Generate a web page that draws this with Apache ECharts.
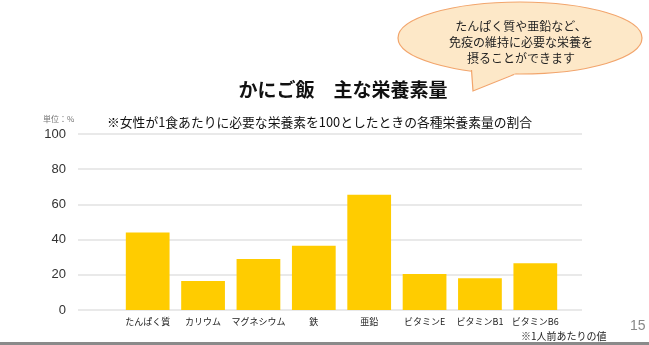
<!DOCTYPE html>
<html><head><meta charset="utf-8">
<script src="https://cdn.jsdelivr.net/npm/echarts@6/dist/echarts.min.js"></script>
<style>html,body{margin:0;padding:0;background:#fff}#c{width:649px;height:345px}</style>
</head><body><div id="c"></div>
<script>
const categories = ['たんぱく質','カリウム','マグネシウム','鉄','亜鉛','ビタミンE','ビタミンB1','ビタミンB6'];
const values = [44, 16.5, 29, 36.5, 65.5, 20.5, 18, 26.5];
const yTicks = [0, 20, 40, 60, 80, 100];
const bubbleLines = ['たんぱく質や亜鉛など、','免疫の維持に必要な栄養を','摂ることができます'];

const FONT = '"Noto Sans CJK JP", "Noto Sans", sans-serif';
const chart = echarts.init(document.getElementById('c'));
const gTop = 134, gBottom = 35;
chart.setOption({
  animation: false,
  textStyle: {fontFamily: FONT},
  title: [
    {text: 'かにご飯　主な栄養素量', left: 338, top: 75, textAlign: 'center',
     textStyle: {fontSize: 19, fontWeight: 'bold', color: '#111', fontFamily: FONT}},
    {text: '※女性が1食あたりに必要な栄養素を100としたときの各種栄養素量の割合', left: 102, top: 111,
     textStyle: {fontSize: 12.8, fontWeight: 'normal', color: '#111', fontFamily: FONT}},
    {text: '単位：%', left: 38, top: 110,
     textStyle: {fontSize: 8, fontWeight: 'normal', color: '#777', fontFamily: FONT}}
  ],
  grid: [
    {left: 78, right: 67, top: gTop, bottom: gBottom},
    {left: 120, right: 86, top: gTop, bottom: gBottom}
  ],
  xAxis: [
    {gridIndex: 0, type: 'category', data: [''], axisLine: {show: false}, axisTick: {show: false}, axisLabel: {show: false}},
    {gridIndex: 1, type: 'category', data: categories,
     axisLine: {show: false}, axisTick: {show: false},
     axisLabel: {interval: 0, fontSize: 9, color: '#222', margin: 7, fontFamily: FONT}}
  ],
  yAxis: [
    {gridIndex: 0, type: 'value', min: 0, max: 100, interval: 20,
     axisLine: {show: false}, axisTick: {show: false},
     axisLabel: {fontSize: 13, color: '#333', margin: 12, fontFamily: 'Liberation Sans, Arial, sans-serif',
       formatter: v => yTicks.includes(v) ? String(v) : ''},
     splitLine: {lineStyle: {color: '#e2e2e2', width: 1.5}}},
    {gridIndex: 1, type: 'value', min: 0, max: 100, interval: 20, show: false, splitLine: {show: false}}
  ],
  series: [{
    type: 'bar', xAxisIndex: 1, yAxisIndex: 1, data: values,
    barCategoryGap: '21%', itemStyle: {color: '#ffcc00'}, z: 3
  }],
  graphic: [
    {type: 'ellipse', shape: {cx: 520, cy: 38, rx: 122, ry: 36},
     style: {fill: '#fde8c8', stroke: '#f2a56c', lineWidth: 1.2}, z: 10},
    {type: 'polygon', shape: {points: [[471, 68], [473, 91], [516, 73]]},
     style: {fill: '#fde8c8', stroke: null}, z: 11},
    {type: 'polyline', shape: {points: [[471.5, 70], [473, 91], [514, 74.5]]},
     style: {fill: null, stroke: '#f2a56c', lineWidth: 1.2}, z: 12},
    {type: 'text', z: 13, x: 521, y: 18,
     style: {text: bubbleLines.join('\n'), fill: '#222', font: '12px ' + FONT,
       align: 'center', lineHeight: 16}},
    {type: 'text', z: 13, x: 521, y: 331, style: {text: '※1人前あたりの値', fill: '#222', font: '10px ' + FONT}},
    {type: 'text', z: 13, x: 630, y: 319, style: {text: '15', fill: '#888', font: '14px Liberation Sans, Arial, sans-serif'}},
    {type: 'rect', shape: {x: 0, y: 342, width: 649, height: 3}, style: {fill: '#8a8a8a'}, z: 13}
  ]
});
</script></body></html>
